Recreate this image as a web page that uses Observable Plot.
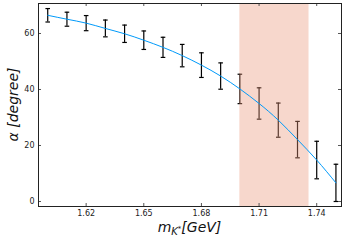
<!DOCTYPE html>
<html><head><meta charset="utf-8">
<script src="https://cdn.jsdelivr.net/npm/d3@7"></script>
<script src="https://cdn.jsdelivr.net/npm/@observablehq/plot@0.6"></script>
<style>body{margin:0;background:#fff}</style>
</head><body><div id="chart"></div>
<script>
const mass  = [1.60, 1.61, 1.62, 1.63, 1.64, 1.65, 1.66, 1.67, 1.68, 1.69, 1.70, 1.71, 1.72, 1.73, 1.74, 1.75];
const alpha = [66.5, 65.1, 63.7, 61.8, 59.9, 57.6, 55.05, 52.1, 48.7, 44.8, 40.2, 35.0, 29.05, 22.1, 14.8, 6.65];
const err   = [2.4, 2.5, 2.7, 3.0, 3.1, 3.3, 3.6, 4.0, 4.4, 4.7, 5.25, 5.6, 6.1, 6.5, 6.7, 6.65];
const band  = [1.700, 1.736];
const xTicks = [1.62, 1.65, 1.68, 1.71, 1.74];
const yTicks = [0, 20, 40, 60];

const data = mass.map((m, i) => ({m, a: alpha[i], lo: alpha[i] - err[i], hi: alpha[i] + err[i]}));
const cap = {draw(ctx, size) { const r = Math.sqrt(size / Math.PI); ctx.moveTo(-r, 0); ctx.lineTo(r, 0); }};
const font = "DejaVu Sans";

const plot = Plot.plot({
  width: 346, height: 242,
  marginLeft: 38, marginRight: 5, marginTop: 3, marginBottom: 36,
  style: {fontFamily: font, fontSize: "8px", background: "white", color: "#222"},
  x: {domain: [1.5952, 1.7529]},
  y: {domain: [-1.79, 70.71]},
  marks: [
    Plot.ruleX(data, {x: "m", y1: "lo", y2: "hi", stroke: "black", strokeWidth: 1.2}),
    Plot.dot(data, {x: "m", y: "hi", symbol: cap, r: 2.3, stroke: "black", strokeWidth: 1.2, fill: "none"}),
    Plot.dot(data, {x: "m", y: "lo", symbol: cap, r: 2.3, stroke: "black", strokeWidth: 1.2, fill: "none"}),
    Plot.rect([band], {x1: d => d[0], x2: d => d[1], fill: "#e9967a", fillOpacity: 0.38}),
    Plot.line(data, {x: "m", y: "a", stroke: "#009AFA", strokeWidth: 1, curve: "natural"}),
    Plot.tickX(xTicks, {x: d => d, insetTop: 200, stroke: "#555"}),
    Plot.tickX(xTicks, {x: d => d, insetBottom: 200, stroke: "#555"}),
    Plot.tickY(yTicks, {y: d => d, insetRight: 300, stroke: "#555"}),
    Plot.tickY(yTicks, {y: d => d, insetLeft: 300, stroke: "#555"}),
    Plot.axisX(xTicks, {tickSize: 0, tickPadding: 4, tickFormat: d => d.toFixed(2), label: null}),
    Plot.axisY(yTicks, {tickSize: 0, tickPadding: 4, label: null}),
    Plot.frame({stroke: "#222"})
  ]
});
document.getElementById("chart").appendChild(plot);

const svg = d3.select(plot);
const xl = svg.append("text").attr("x", 189.5).attr("y", 232).attr("text-anchor", "middle")
  .style("font-family", font).style("font-size", "14px").style("font-style", "italic").attr("fill", "#111");
xl.append("tspan").text("m");
xl.append("tspan").attr("dy", 3).style("font-size", "10px").text("K");
xl.append("tspan").attr("dy", -4).style("font-size", "7px").text("*");
xl.append("tspan").attr("dy", 1).text("[GeV]");

const yl = svg.append("text").attr("transform", "translate(17.5,104.5) rotate(-90)").attr("text-anchor", "middle")
  .style("font-family", font).style("font-size", "14px").style("font-style", "italic").attr("fill", "#111");
yl.text("α [degree]");
</script>
</body></html>
